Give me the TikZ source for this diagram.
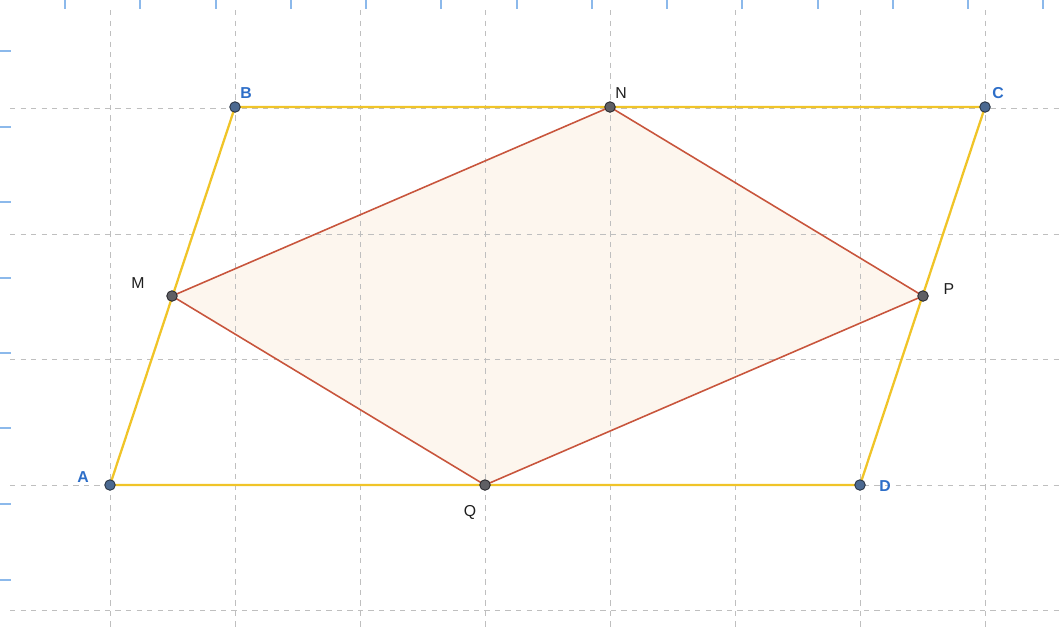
\documentclass[tikz,border=0pt]{standalone}
\usepackage{fontspec}
\setmainfont{Liberation Sans}
\definecolor{tickblue}{RGB}{140,185,235}
\definecolor{sideyel}{RGB}{240,196,40}
\definecolor{rhred}{RGB}{200,85,60}
\definecolor{rhfill}{RGB}{253,246,238}
\definecolor{vfill}{RGB}{75,105,145}
\definecolor{vdraw}{RGB}{40,50,65}
\definecolor{mfill}{RGB}{95,95,100}
\definecolor{mdraw}{RGB}{40,40,45}
\definecolor{labblue}{RGB}{45,110,200}
\definecolor{labblack}{RGB}{30,30,30}
\begin{document}
\begin{tikzpicture}[x=0.02cm,y=-0.02cm,
  gridline/.style={gray!50,line width=0.5pt,dash pattern=on 3pt off 3pt},
  tick/.style={draw=tickblue,line width=0.6pt},
  side/.style={draw=sideyel,line width=1.3pt},
  rhomb/.style={draw=rhred,line width=0.9pt},
  rfill/.style={fill=rhfill},
  vpt/.style={circle,inner sep=0pt,minimum size=6pt,fill=vfill,draw=vdraw,line width=0.5pt},
  mpt/.style={circle,inner sep=0pt,minimum size=6pt,fill=mfill,draw=mdraw,line width=0.5pt},
  blab/.style={text=labblue,font=\fontsize{9}{10}\selectfont\bfseries,inner sep=0pt},
  klab/.style={text=labblack,font=\fontsize{9}{10}\selectfont,inner sep=0pt}]
\useasboundingbox (0,0) rectangle (1064,630);
% points
\coordinate (a) at (110,485);
\coordinate (b) at (235,107);
\coordinate (c) at (985,107);
\coordinate (d) at (860,485);
\coordinate (m) at (172,296);
\coordinate (n) at (610,107);
\coordinate (p) at (923,296);
\coordinate (q) at (485,485);
\fill[rfill] (m) -- (n) -- (p) -- (q) -- cycle;
% grid
\foreach \x in {110,235,360,485,610,735,860,985}
  \draw[gridline] (\x,10) -- (\x,630);
\foreach \y in {108,234,359,485,610}
  \draw[gridline] (10,\y) -- (1064,\y);
% ticks
\foreach \x in {65,140,216,291,366,441,517,592,667,742,818,893,968,1043}
  \draw[tick] (\x,0) -- (\x,9);
\foreach \y in {51,127,202,278,353,428,504,580}
  \draw[tick] (0,\y) -- (11,\y);
\draw[side] (a) -- (b) -- (c) -- (d) -- cycle;
\draw[rhomb] (m) -- (n) -- (p) -- (q) -- cycle;
\node[vpt] (A) at (a) {};
\node[vpt] (B) at (b) {};
\node[vpt] (C) at (c) {};
\node[vpt] (D) at (d) {};
\node[mpt] (M) at (m) {};
\node[mpt] (N) at (n) {};
\node[mpt] (P) at (p) {};
\node[mpt] (Q) at (q) {};
% labels
\node[blab] (lA) at (83,477) {A};
\node[blab] (lB) at (246,93) {B};
\node[blab] (lC) at (998,93) {C};
\node[blab] (lD) at (885,486) {D};
\node[klab] (lM) at (138,283) {M};
\node[klab] (lN) at (621,93) {N};
\node[klab] (lP) at (949,289) {P};
\node[klab] (lQ) at (470,512) {Q};
\end{tikzpicture}
\end{document}
